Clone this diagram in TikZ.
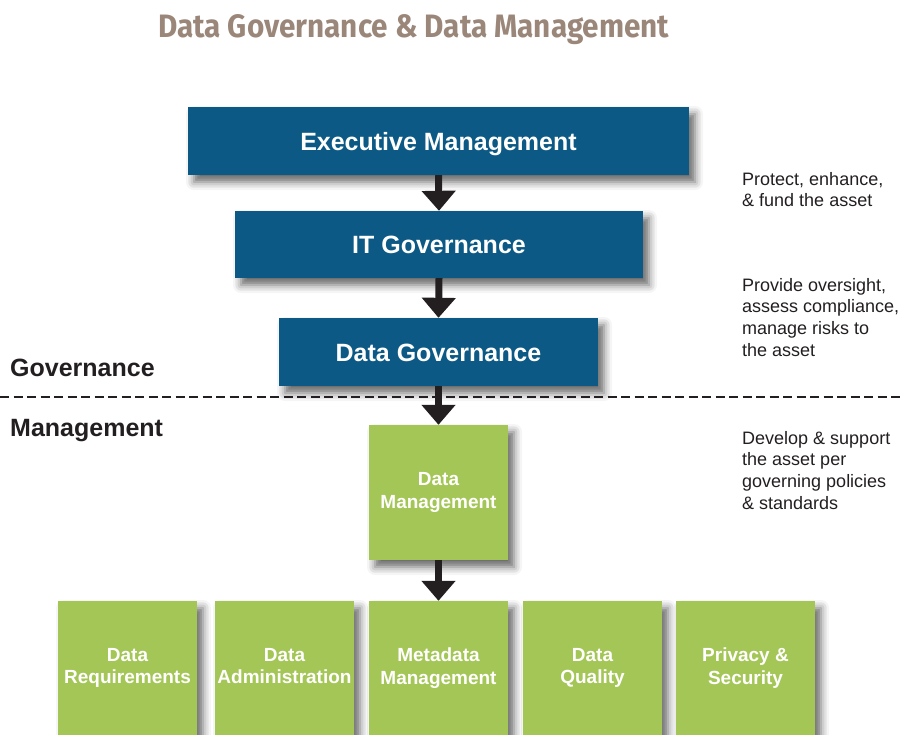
\documentclass[tikz,border=0pt]{standalone}
\usepackage{fontspec}
\setmainfont{Liberation Sans}
\newfontfamily\titlefont{Fira Sans}
\usetikzlibrary{arrows.meta,shadows.blur}
\definecolor{govblue}{RGB}{11,89,132}
\definecolor{mgtgreen}{RGB}{164,198,86}
\definecolor{titlebrown}{RGB}{155,135,122}
\definecolor{inkdark}{RGB}{35,31,32}
\newcommand\evenln{\vphantom{Ag}}
\tikzset{
  boxshadow/.style={blur shadow={shadow xshift=6pt,shadow yshift=-7pt,shadow blur radius=8pt,shadow opacity=60}},
  bluebox/.style={boxshadow,fill=govblue,draw=none,text=white,inner sep=0pt,
    font=\fontsize{25}{29}\selectfont\bfseries,text height=18pt,text depth=0pt},
  greenbox/.style={boxshadow,fill=mgtgreen,draw=none,text=white,inner sep=0pt,align=center,
    minimum width=139pt,font=\fontsize{19}{22.5}\selectfont\bfseries},
  sidelabel/.style={anchor=base west,inner sep=0pt,text=inkdark,font=\fontsize{25}{30}\selectfont\bfseries},
  note/.style={anchor=north west,inner sep=0pt,align=left,text=inkdark,font=\fontsize{18}{21.7}\selectfont},
  arr/.style={draw=inkdark,line width=7pt,-{Triangle[width=33pt,length=20pt]}},
  divider/.style={draw=inkdark,line width=2.5pt,dash pattern=on 9pt off 4.5pt}
}
\begin{document}
\begin{tikzpicture}[x=1pt,y=-1pt]
\useasboundingbox (0,0) rectangle (904,734);
\clip (0,0) rectangle (904,734);
% title
\node[anchor=base west,inner sep=0pt,text=titlebrown] (title) at (158,37)
  {\resizebox{511pt}{23pt}{\titlefont\bfseries Data Governance \& Data Management}};
% governance boxes
\node[bluebox,minimum width=501pt,minimum height=68pt] (exec) at (438.5,141) {Executive Management};
\node[bluebox,minimum width=408pt,minimum height=67pt] (itg) at (439,244.5) {IT Governance};
\node[bluebox,minimum width=319pt,minimum height=68pt] (dg) at (438.5,352) {Data Governance};
% divider
\coordinate (dl) at (0,397);
\coordinate (dr) at (904,397);
\draw[divider] (dl) -- (dr);
\node[sidelabel] (govlabel) at (10,376) {Governance};
\node[sidelabel] (mgtlabel) at (10,436) {Management};
% management boxes
\node[greenbox,minimum height=135pt] (dm) at (438.5,492.5) {\evenln Data\\\evenln Management};
\node[greenbox,minimum height=134pt] (req) at (127.5,668) {\evenln Data\\\evenln Requirements};
\node[greenbox,minimum height=134pt] (adm) at (284.5,668) {\evenln Data\\\evenln Administration};
\node[greenbox,minimum height=134pt] (meta) at (438.5,668) {\evenln Metadata\\\evenln Management};
\node[greenbox,minimum height=134pt] (qual) at (592.5,668) {\evenln Data\\\evenln Quality};
\node[greenbox,minimum height=134pt] (priv) at (745.5,668) {\evenln Privacy \&\\\evenln Security};
% arrows
\draw[arr] (exec.south) -- (itg.north);
\draw[arr] (itg.south) -- (dg.north);
\draw[arr] (dg.south) -- (dm.north);
\draw[arr] (dm.south) -- (meta.north);
% notes
\node[note] (n1) at (742,172) {Protect, enhance,\\\& fund the asset};
\node[note] (n2) at (742,278) {Provide oversight,\\assess compliance,\\manage risks to\\the asset};
\node[note] (n3) at (742,431) {Develop \& support\\the asset per\\governing policies\\\& standards};
\end{tikzpicture}
\end{document}
